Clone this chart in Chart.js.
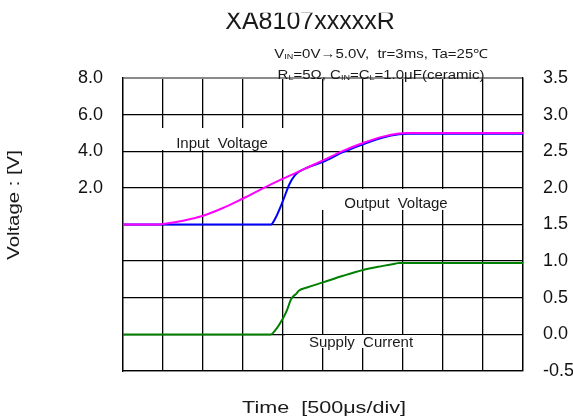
<!DOCTYPE html>
<html>
<head>
<meta charset="utf-8">
<script src="https://cdn.jsdelivr.net/npm/chart.js@4.4.0/dist/chart.umd.min.js"></script>
<style>
  html, body { margin: 0; padding: 0; background: #fff; }
</style>
</head>
<body>
<canvas id="chart" width="573" height="420"></canvas>
<script>
/*---------------------------- data (time in ms, 500us/div) ----------------------------*/
var timeIn  = [0, 0.4, 0.5, 0.75, 1.0, 1.25, 1.5, 1.75, 2.0, 2.25, 2.5, 2.75, 3.0, 3.25, 3.45, 3.55, 5.0];
var vIn     = [0, 0, 0.03, 0.2, 0.48, 0.9, 1.42, 1.97, 2.5, 3.0, 3.5, 4.02, 4.45, 4.8, 4.97, 5.0, 5.0];

var timeOut = [0, 1.85, 1.9, 2.0, 2.08, 2.15, 2.22, 2.3, 2.5, 2.75, 3.0, 3.25, 3.45, 3.55, 5.0];
var vOut    = [0, 0, 0.3, 1.3, 2.2, 2.7, 2.93, 3.1, 3.42, 3.95, 4.38, 4.75, 4.93, 4.96, 4.96];

var timeI   = [0, 1.85, 1.9, 2.0, 2.05, 2.1, 2.17, 2.2, 2.3, 2.5, 2.75, 3.0, 3.25, 3.4, 3.45, 5.0];
var iSupply = [0, 0, 0.05, 0.22, 0.33, 0.48, 0.56, 0.6, 0.64, 0.71, 0.8, 0.88, 0.935, 0.965, 0.975, 0.975];

var voltLabels = [2, 4, 6, 8];
var currLabels = [-0.5, 0, 0.5, 1, 1.5, 2, 2.5, 3, 3.5];

var FONT = "'Liberation Sans', Arial, sans-serif";

function points(xs, ys) {
  return xs.map(function (x, i) { return { x: x, y: ys[i] }; });
}

// draws text runs (subscripts allowed) centred on the origin, stretched by sx
function drawRuns(ctx, runs, size, sx) {
  var total = 0;
  runs.forEach(function (r) {
    ctx.font = (r.sub ? size * 0.6 : size) + "px " + FONT;
    r.w = ctx.measureText(r.t).width;
    total += r.w;
  });
  ctx.scale(sx, 1);
  ctx.textAlign = 'left';
  ctx.textBaseline = 'alphabetic';
  var x = -total / 2;
  runs.forEach(function (r) {
    ctx.font = (r.sub ? size * 0.6 : size) + "px " + FONT;
    ctx.fillText(r.t, x, r.sub ? size * 0.15 : 0);
    x += r.w;
  });
}

function T(t) { return { t: t }; }
function S(t) { return { t: t, sub: true }; }

/*---------------------------- labels inside the plot ----------------------------*/
var plotLabels = {
  id: 'plotLabels',
  beforeDatasetsDraw: function (chart) {
    var ctx = chart.ctx;
    var boxes = [
      { x: 125, y: 128, w: 175, h: 22, text: 'Input  Voltage',  tx: 222, ty: 147.5 },
      { x: 321, y: 189, w: 144, h: 21, text: 'Output  Voltage', tx: 396, ty: 207.5 },
      { x: 285, y: 335, w: 155, h: 13, text: 'Supply  Current', tx: 361, ty: 346.5 }
    ];
    ctx.save();
    boxes.forEach(function (b) {
      ctx.fillStyle = '#fff';
      ctx.fillRect(b.x, b.y, b.w, b.h);
      ctx.fillStyle = '#1a1a1a';
      ctx.font = '15px ' + FONT;
      ctx.textAlign = 'center';
      ctx.textBaseline = 'alphabetic';
      ctx.fillText(b.text, b.tx, b.ty);
    });
    ctx.restore();
  },
  afterDraw: function (chart) {
    var ctx = chart.ctx;
    ctx.save();
    ctx.fillStyle = '#1a1a1a';

    // main title, top edge cut off
    ctx.save();
    ctx.beginPath();
    ctx.rect(0, 12.7, 573, 40);
    ctx.clip();
    ctx.font = '25px ' + FONT;
    ctx.textAlign = 'center';
    ctx.textBaseline = 'alphabetic';
    ctx.fillText('XA8107xxxxxR', 310, 28.5);
    ctx.restore();

    // test conditions
    ctx.save();
    ctx.translate(381, 57.5);
    drawRuns(ctx, [T('V'), S('IN'), T('=0V\u21925.0V,  tr=3ms, Ta=25\u2103')], 12.5, 1.2);
    ctx.restore();
    ctx.save();
    ctx.translate(381, 78.5);
    drawRuns(ctx, [T('R'), S('L'), T('=5\u03A9, C'), S('IN'), T('=C'), S('L'), T('=1.0\u03BCF(ceramic)')], 12.5, 1.2);
    ctx.restore();

    // axis titles
    ctx.save();
    ctx.translate(324, 412.5);
    drawRuns(ctx, [T('Time  [500\u03BCs/div]')], 17, 1.27);
    ctx.restore();
    ctx.save();
    ctx.translate(18.5, 205);
    ctx.rotate(-Math.PI / 2);
    drawRuns(ctx, [T('Voltage : [V]')], 16, 1.27);
    ctx.restore();

    ctx.restore();
  }
};

new Chart(document.getElementById('chart'), {
  type: 'line',
  data: {
    datasets: [{
      label: 'Input Voltage',
      data: points(timeIn, vIn),
      yAxisID: 'y',
      borderColor: '#ff00ff',
      borderWidth: 2,
      cubicInterpolationMode: 'monotone'
    }, {
      label: 'Output Voltage',
      data: points(timeOut, vOut),
      yAxisID: 'y',
      borderColor: '#0000ff',
      borderWidth: 2,
      cubicInterpolationMode: 'monotone'
    }, {
      label: 'Supply Current',
      data: points(timeI, iSupply),
      yAxisID: 'y2',
      borderColor: '#008000',
      borderWidth: 2,
      cubicInterpolationMode: 'monotone'
    }]
  },
  options: {
    responsive: false,
    animation: false,
    events: [],
    elements: { point: { radius: 0 } },
    layout: { padding: { top: 78, left: 0, right: 0, bottom: 0 } },
    plugins: {
      legend: { display: false },
      title: { display: false },
      tooltip: { enabled: false }
    },
    scales: {
      x: {
        type: 'linear',
        min: 0,
        max: 5,
        ticks: { display: false, stepSize: 0.5 },
        grid: { color: '#000', lineWidth: 1.3, drawTicks: false },
        border: { color: '#000', width: 1.3 },
        afterFit: function (s) { s.height = 49; }
      },
      y: {
        position: 'left',
        min: -8,
        max: 8,
        ticks: {
          stepSize: 2,
          padding: 20,
          color: '#111',
          font: { size: 18, family: FONT },
          callback: function (v) { return voltLabels.indexOf(v) >= 0 ? v.toFixed(1) : ''; }
        },
        grid: { display: false, drawTicks: false },
        border: { color: '#000', width: 1.3 },
        afterFit: function (s) { s.width = 123; }
      },
      y2: {
        position: 'right',
        min: -0.5,
        max: 3.5,
        ticks: {
          stepSize: 0.5,
          padding: 20,
          color: '#111',
          font: { size: 18, family: FONT },
          callback: function (v) { return currLabels.indexOf(v) >= 0 ? v.toFixed(1) : ''; }
        },
        grid: {
          drawTicks: false,
          color: function (c) { return c.tick && c.tick.value === 3.5 ? '#8a8a8a' : '#000'; },
          lineWidth: function (c) { return c.tick && c.tick.value === 3.5 ? 2 : 1.3; }
        },
        border: { color: '#000', width: 1.3 },
        afterFit: function (s) { s.width = 50; }
      }
    }
  },
  plugins: [plotLabels]
});
</script>
</body>
</html>
